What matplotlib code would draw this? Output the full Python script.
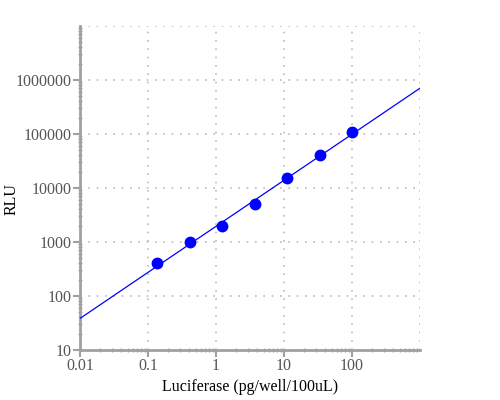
import numpy as np
import matplotlib
matplotlib.use("Agg")
import matplotlib.pyplot as plt
from matplotlib.ticker import FixedLocator, FixedFormatter, LogLocator, NullFormatter

# Data
luciferase = [0.137, 0.41, 1.23, 3.7, 11.1, 33.3, 100]
rlu = [400, 1000, 2000, 5000, 15000, 40000, 110000]
x_ticks = [0.01, 0.1, 1, 10, 100]
x_tick_labels = ["0.01", "0.1", "1", "10", "100"]
y_ticks = [10, 100, 1000, 10000, 100000, 1000000]
y_tick_labels = ["10", "100", "1000", "10000", "100000", "1000000"]

plt.rcParams['font.family'] = ['Liberation Serif', 'DejaVu Serif']

fig = plt.figure(figsize=(5, 4), dpi=100)
ax = fig.add_axes([80/500, 1-350/400, 340/500, 324/400])
ax.set_xscale('log')
ax.set_yscale('log')
ax.set_xlim(0.01, 1000)
ax.set_ylim(10, 1e7)

# fit in log space
b, a = np.polyfit(np.log10(luciferase), np.log10(rlu), 1)
xl = np.logspace(-2, 3, 50)
ax.plot(xl, 10**(a + b*np.log10(xl)), color=(0, 0, 1), lw=0.9, zorder=3)
ax.plot(luciferase, rlu, 'o', color=(0, 0, 1), ms=7.5, zorder=4, clip_on=False)

gridc = '#bbbbbb'
for xv in x_ticks[1:] + [1000]:
    ax.axvline(xv, color=gridc, ls=(0, (1, 4)), lw=1.2, zorder=1)
for yv in y_ticks[1:] + [1e7]:
    ax.axhline(yv, color=gridc, ls=(0, (1, 4)), lw=1.2, zorder=1)

ax.xaxis.set_major_locator(FixedLocator(x_ticks))
ax.xaxis.set_major_formatter(FixedFormatter(x_tick_labels))
ax.yaxis.set_major_locator(FixedLocator(y_ticks))
ax.yaxis.set_major_formatter(FixedFormatter(y_tick_labels))
ax.xaxis.set_minor_locator(LogLocator(base=10, subs=np.arange(2, 10), numticks=20))
ax.yaxis.set_minor_locator(LogLocator(base=10, subs=np.arange(2, 10), numticks=20))
ax.xaxis.set_minor_formatter(NullFormatter())
ax.yaxis.set_minor_formatter(NullFormatter())

for s in ['top', 'right']:
    ax.spines[s].set_visible(False)
for s in ['left', 'bottom']:
    ax.spines[s].set_color('#a0a0a0')
    ax.spines[s].set_linewidth(2)

ax.tick_params(which='major', length=5, width=1.5, color='#a0a0a0', labelsize=11.5,
               labelcolor='#555555', pad=1)
ax.tick_params(which='minor', length=3, width=1, color='#a0a0a0', direction='inout')

fig.text(250/500, 1-387/400, "Luciferase (pg/well/100uL)", fontsize=11.5, color='black',
         ha='center', va='center')
fig.text(12/500, 1-199/400, "RLU", fontsize=11.5, color='black', rotation=90,
         ha='center', va='center')

fig.savefig("out.png", dpi=100)
